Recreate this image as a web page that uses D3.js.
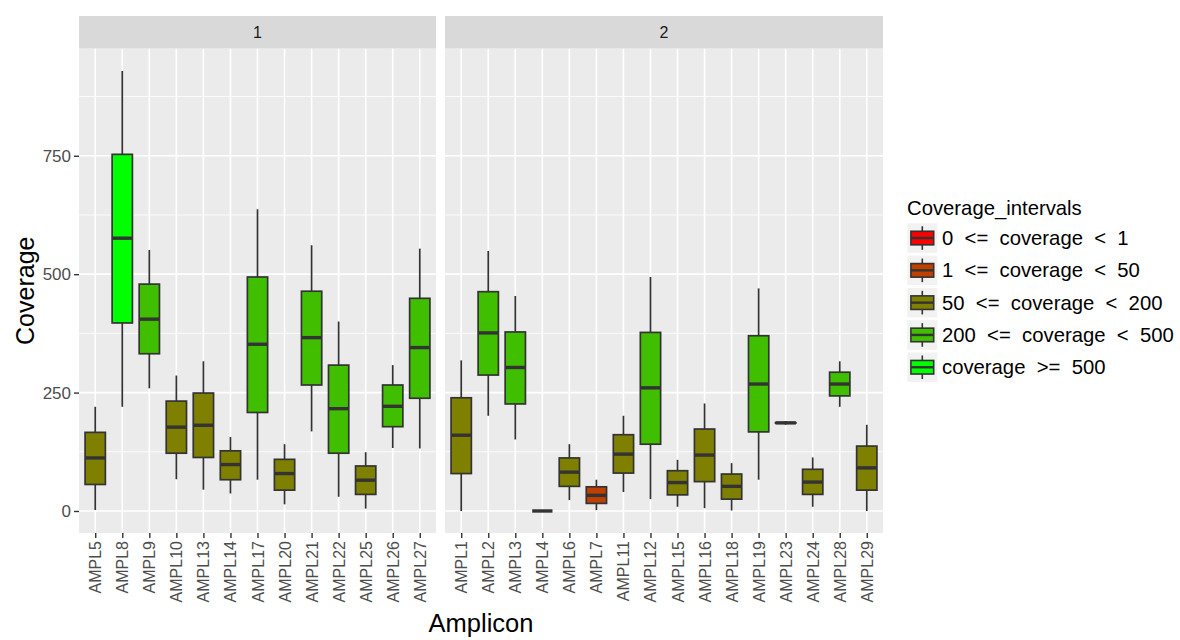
<!DOCTYPE html>
<html>
<head>
<meta charset="utf-8">
<script src="https://cdn.jsdelivr.net/npm/d3@7"></script>
<style>
  html, body { margin: 0; padding: 0; background: #fff; }
  svg { display: block; font-family: "Liberation Sans", Arial, Helvetica, sans-serif; }
</style>
</head>
<body>
<svg id="chart" width="1180" height="640"></svg>
<script>
// ---------------- DATA ----------------
const facetLabels = ["1", "2"];

const p1Amplicons = ["AMPL5","AMPL8","AMPL9","AMPL10","AMPL13","AMPL14","AMPL17","AMPL20","AMPL21","AMPL22","AMPL25","AMPL26","AMPL27"];
const p1Min = [2, 220, 259, 67, 45, 37, 66, 14, 168, 30, 5, 133, 132];
const p1Q1  = [56, 397, 332, 122, 113, 66, 208, 44, 266, 122, 35, 178, 238];
const p1Med = [112, 576, 405, 177, 181, 98, 352, 79, 366, 216, 65, 221, 345];
const p1Q3  = [166, 753, 479, 232, 249, 127, 494, 109, 464, 308, 95, 266, 449];
const p1Max = [220, 929, 551, 286, 316, 156, 637, 141, 561, 400, 124, 308, 554];
const p1Interval = [2, 4, 3, 2, 2, 2, 3, 2, 3, 3, 2, 3, 3];

const p2Amplicons = ["AMPL1","AMPL2","AMPL3","AMPL4","AMPL6","AMPL7","AMPL11","AMPL12","AMPL15","AMPL16","AMPL18","AMPL19","AMPL23","AMPL24","AMPL28","AMPL29"];
const p2Min = [0, 201, 151, 0, 23, 2, 40, 25, 9, 6, 1, 66, 182, 9, 220, 0];
const p2Q1  = [79, 287, 226, 0, 52, 16, 80, 141, 34, 62, 25, 167, 185.5, 35, 243, 44];
const p2Med = [160, 376, 303, 0, 82, 33, 120, 260, 60, 118, 52, 268, 186, 61, 268, 91];
const p2Q3  = [239, 463, 378, 0, 112, 51, 161, 377, 85, 173, 78, 370, 186.5, 88, 293, 137];
const p2Max = [318, 549, 454, 0, 141, 66, 201, 494, 108, 227, 101, 470, 190, 113, 316, 182];
const p2Interval = [2, 3, 3, 0, 2, 1, 2, 3, 2, 2, 2, 3, 2, 2, 3, 2];

const intervalLabels = ["0  <=  coverage  <  1", "1  <=  coverage  <  50", "50  <=  coverage  <  200", "200  <=  coverage  <  500", "coverage  >=  500"];
const intervalColors = ["#FF0000", "#BF4000", "#808000", "#40BF00", "#00FF00"];

const yTicks = [0, 250, 500, 750];
const yMinor = [125, 375, 625, 875];
const yDomain = [-46.5, 976.5];

const legendTitle = "Coverage_intervals";
const xTitle = "Amplicon";
const yTitle = "Coverage";

// ---------------- LAYOUT ----------------
const svg = d3.select("#chart");
const plotTop = 48.5, plotBottom = 533;
const stripTop = 16;
const panels = [
  { label: facetLabels[0], left: 79, right: 436, cats: p1Amplicons, min: p1Min, q1: p1Q1, med: p1Med, q3: p1Q3, max: p1Max, iv: p1Interval },
  { label: facetLabels[1], left: 445, right: 883, cats: p2Amplicons, min: p2Min, q1: p2Q1, med: p2Med, q3: p2Q3, max: p2Max, iv: p2Interval }
];

const y = d3.scaleLinear().domain(yDomain).range([plotBottom, plotTop]);
const color = d3.scaleOrdinal().domain(d3.range(intervalLabels.length)).range(intervalColors);
const dark = "#333333";

panels.forEach((p, pi) => {
  const x = d3.scalePoint().domain(p.cats).range([p.left, p.right]).padding(0.6);
  const bw = x.step() * 0.75;
  const g = svg.append("g");

  g.append("rect").attr("x", p.left).attr("y", plotTop).attr("width", p.right - p.left).attr("height", plotBottom - plotTop).attr("fill", "#EBEBEB");

  g.selectAll(".minor").data(yMinor).join("line")
    .attr("x1", p.left).attr("x2", p.right)
    .attr("y1", d => y(d)).attr("y2", d => y(d))
    .attr("stroke", "#fff").attr("stroke-width", 0.8);
  g.selectAll(".major").data(yTicks).join("line")
    .attr("x1", p.left).attr("x2", p.right)
    .attr("y1", d => y(d)).attr("y2", d => y(d))
    .attr("stroke", "#fff").attr("stroke-width", 1.6);
  g.selectAll(".vgrid").data(p.cats).join("line")
    .attr("x1", d => x(d)).attr("x2", d => x(d))
    .attr("y1", plotTop).attr("y2", plotBottom)
    .attr("stroke", "#fff").attr("stroke-width", 1.6);

  g.append("rect").attr("x", p.left).attr("y", stripTop).attr("width", p.right - p.left).attr("height", plotTop - stripTop).attr("fill", "#D9D9D9");
  g.append("text").attr("x", (p.left + p.right) / 2).attr("y", (stripTop + plotTop) / 2)
    .attr("text-anchor", "middle").attr("dominant-baseline", "central")
    .attr("font-size", 16).attr("fill", "#1A1A1A").text(p.label);

  const rows = p.cats.map((c, i) => ({ c, min: p.min[i], q1: p.q1[i], med: p.med[i], q3: p.q3[i], max: p.max[i], iv: p.iv[i] }));
  const bx = g.selectAll(".box").data(rows).join("g");
  bx.append("line")
    .attr("x1", d => x(d.c)).attr("x2", d => x(d.c))
    .attr("y1", d => y(d.max)).attr("y2", d => y(d.q3))
    .attr("stroke", dark).attr("stroke-width", 1.7);
  bx.append("line")
    .attr("x1", d => x(d.c)).attr("x2", d => x(d.c))
    .attr("y1", d => y(d.q1)).attr("y2", d => y(d.min))
    .attr("stroke", dark).attr("stroke-width", 1.7);
  bx.append("rect")
    .attr("x", d => x(d.c) - bw / 2).attr("width", bw)
    .attr("y", d => y(d.q3)).attr("height", d => y(d.q1) - y(d.q3))
    .attr("fill", d => color(d.iv)).attr("stroke", dark).attr("stroke-width", 1.7);
  bx.append("line")
    .attr("x1", d => x(d.c) - bw / 2).attr("x2", d => x(d.c) + bw / 2)
    .attr("y1", d => y(d.med)).attr("y2", d => y(d.med))
    .attr("stroke", dark).attr("stroke-width", 3.4);

  const xa = g.append("g").attr("transform", `translate(0,${plotBottom})`)
    .call(d3.axisBottom(x).tickSize(5).tickPadding(3));
  xa.select(".domain").remove();
  xa.selectAll(".tick line").attr("stroke", dark).attr("stroke-width", 1.4);
  xa.selectAll(".tick text")
    .attr("font-size", 16).attr("fill", "#4D4D4D")
    .attr("font-family", "Liberation Sans, Arial, sans-serif")
    .attr("text-anchor", "end").attr("dominant-baseline", "central")
    .attr("transform", "rotate(-90)").attr("x", -8).attr("y", 0).attr("dy", null);

  if (pi === 0) {
    const ya = g.append("g").attr("transform", `translate(${p.left},0)`)
      .call(d3.axisLeft(y).tickValues(yTicks).tickSize(5).tickPadding(3));
    ya.select(".domain").remove();
    ya.selectAll(".tick line").attr("stroke", dark).attr("stroke-width", 1.4);
    ya.selectAll(".tick text").attr("font-size", 17).attr("fill", "#4D4D4D")
      .attr("font-family", "Liberation Sans, Arial, sans-serif")
      .attr("dy", null).attr("dominant-baseline", "central");
  }
});

svg.append("text").attr("x", (79 + 883) / 2).attr("y", 632)
  .attr("text-anchor", "middle").attr("font-size", 25.5).attr("fill", "#000").text(xTitle);
svg.append("text").attr("transform", `translate(34,${(plotTop + plotBottom) / 2}) rotate(-90)`)
  .attr("text-anchor", "middle").attr("font-size", 25).attr("fill", "#000").text(yTitle);

const lg = svg.append("g");
lg.append("text").attr("x", 907).attr("y", 215).attr("font-size", 20.3).attr("fill", "#000").text(legendTitle);
const kW = 30, kH = 29.5, kStep = 32.3, kTop = 223.3, kLeft = 907.3;
intervalLabels.forEach((lab, i) => {
  const ky = kTop + i * kStep;
  const k = lg.append("g");
  k.append("rect").attr("x", kLeft).attr("y", ky).attr("width", kW).attr("height", kH).attr("fill", "#F2F2F2");
  const cx = kLeft + kW / 2;
  k.append("line").attr("x1", cx).attr("x2", cx).attr("y1", ky + kH * 0.1).attr("y2", ky + kH * 0.9)
    .attr("stroke", dark).attr("stroke-width", 1.6);
  k.append("rect").attr("x", kLeft + kW * 0.12).attr("width", kW * 0.76)
    .attr("y", ky + kH * 0.27).attr("height", kH * 0.46)
    .attr("fill", color(i)).attr("stroke", dark).attr("stroke-width", 1.6);
  k.append("line").attr("x1", kLeft + kW * 0.12).attr("x2", kLeft + kW * 0.88)
    .attr("y1", ky + kH / 2).attr("y2", ky + kH / 2).attr("stroke", dark).attr("stroke-width", 2.4);
  k.append("text").attr("x", 942).attr("y", ky + kH / 2)
    .attr("dominant-baseline", "central").attr("font-size", 20.3).attr("fill", "#000")
    .style("white-space", "pre").text(lab);
});
</script>
</body>
</html>
